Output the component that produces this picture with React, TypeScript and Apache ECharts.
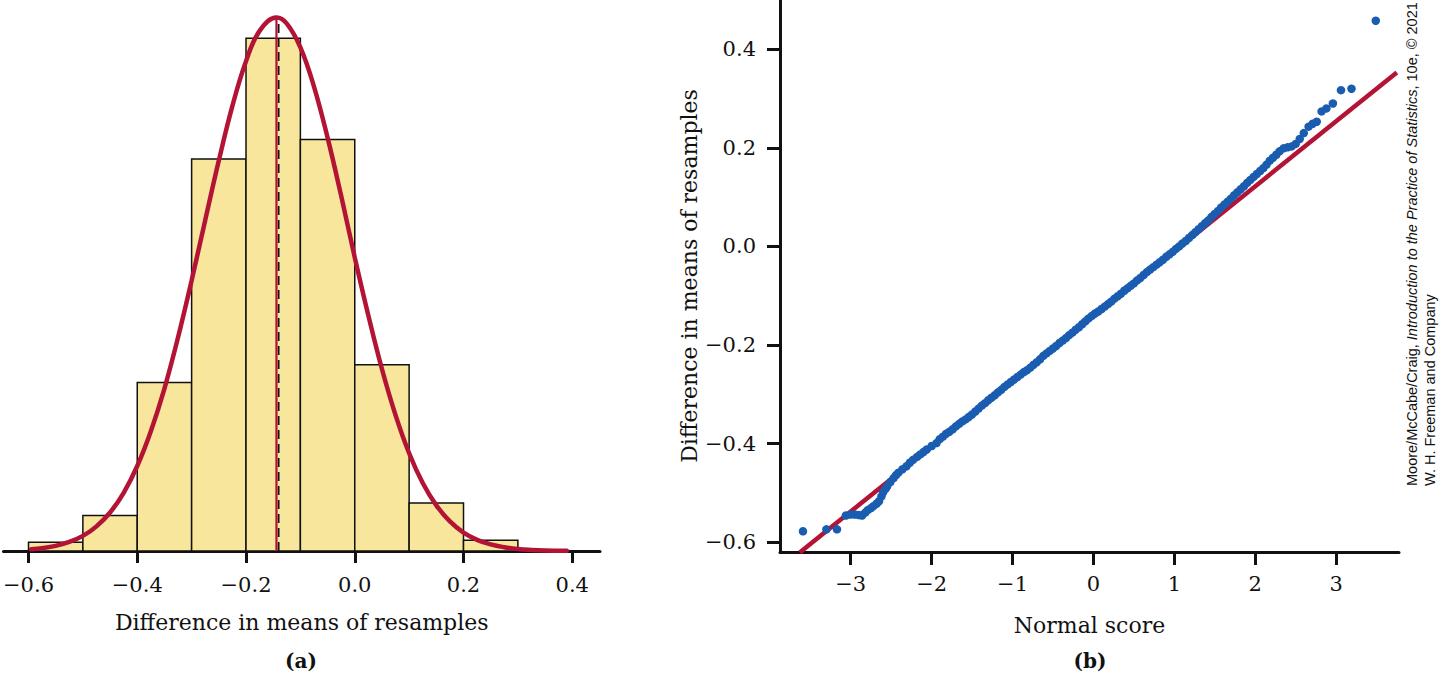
import React, { useEffect, useRef } from "react";
import * as echarts from "echarts";

// ---------- Panel (a): histogram of resample differences ----------
const binEdges = [-0.6, -0.5, -0.4, -0.3, -0.2, -0.1, 0.0, 0.1, 0.2, 0.3];
const binCounts = [5, 20, 95, 221, 289, 232, 105, 27, 6];
const histTicks = [-0.6, -0.4, -0.2, 0, 0.2, 0.4];

const curveX = [-0.595, -0.575, -0.55, -0.525, -0.5, -0.475, -0.45, -0.425, -0.4, -0.375, -0.35, -0.325, -0.3, -0.275, -0.25, -0.225, -0.2, -0.175, -0.144, -0.125, -0.1, -0.075, -0.05, -0.025, 0, 0.025, 0.05, 0.075, 0.1, 0.125, 0.15, 0.175, 0.2, 0.225, 0.25, 0.275, 0.3, 0.325, 0.35, 0.39];
const curveY = [1.0, 1.6, 2.9, 5.1, 8.5, 13.9, 21.7, 32.8, 47.9, 67.5, 91.6, 120.4, 152.5, 186.5, 220.1, 250.9, 276.1, 293.2, 300.7, 297.3, 283.9, 261.8, 233.0, 200.2, 165.5, 132.8, 102.6, 76.6, 55.1, 38.3, 25.7, 16.7, 10.4, 6.3, 3.7, 2.1, 1.1, 0.6, 0.3, 0.1];

const normalMean = -0.144;
const observedMean = -0.14;
const curvePeak = 300.7;

// ---------- Panel (b): normal quantile plot ----------
const qqLowTail: number[][] = [
  [-3.59, -0.578], [-3.3, -0.574], [-3.17, -0.574], [-3.06, -0.546], [-3.0, -0.544], [-2.95, -0.544],
  [-2.9, -0.545], [-2.86, -0.546], [-2.82, -0.54], [-2.79, -0.535], [-2.75, -0.531], [-2.72, -0.527],
  [-2.68, -0.522], [-2.65, -0.517], [-2.62, -0.507], [-2.6, -0.499], [-2.57, -0.492], [-2.55, -0.487],
  [-2.51, -0.478], [-2.47, -0.47], [-2.44, -0.464], [-2.41, -0.459], [-2.36, -0.452], [-2.31, -0.446],
  [-2.27, -0.439], [-2.23, -0.433], [-2.18, -0.427], [-2.14, -0.422], [-2.1, -0.417], [-2.06, -0.412],
  [-2.0, -0.405], [-1.94, -0.399],
];
const qqMiddle: number[][] = [
  [-1.9, -0.391], [-1.86, -0.386], [-1.82, -0.38], [-1.78, -0.376], [-1.74, -0.371], [-1.7, -0.365],
  [-1.66, -0.36], [-1.62, -0.355], [-1.58, -0.351], [-1.54, -0.346], [-1.5, -0.341], [-1.46, -0.335],
  [-1.42, -0.329], [-1.38, -0.323], [-1.34, -0.318], [-1.3, -0.312], [-1.26, -0.307], [-1.22, -0.302],
  [-1.18, -0.296], [-1.14, -0.291], [-1.1, -0.285], [-1.06, -0.28], [-1.02, -0.275], [-0.98, -0.27],
  [-0.94, -0.265], [-0.9, -0.26], [-0.86, -0.255], [-0.82, -0.251], [-0.78, -0.246], [-0.74, -0.24],
  [-0.7, -0.235], [-0.66, -0.229], [-0.62, -0.222], [-0.58, -0.217], [-0.54, -0.212], [-0.5, -0.207],
  [-0.46, -0.202], [-0.42, -0.196], [-0.38, -0.191], [-0.34, -0.186], [-0.3, -0.18], [-0.26, -0.175],
  [-0.22, -0.169], [-0.18, -0.164], [-0.14, -0.158], [-0.1, -0.152], [-0.06, -0.146], [-0.02, -0.141],
  [0.02, -0.136], [0.06, -0.132], [0.1, -0.127], [0.14, -0.122], [0.18, -0.117], [0.22, -0.112],
  [0.26, -0.106], [0.3, -0.101], [0.34, -0.096], [0.38, -0.09], [0.42, -0.085], [0.46, -0.08],
  [0.5, -0.075], [0.54, -0.069], [0.58, -0.064], [0.62, -0.058], [0.66, -0.052], [0.7, -0.047],
  [0.74, -0.042], [0.78, -0.037], [0.82, -0.032], [0.86, -0.027], [0.9, -0.021], [0.94, -0.016],
  [0.98, -0.011], [1.02, -0.005], [1.06, 0.0], [1.1, 0.006], [1.14, 0.011], [1.18, 0.017],
];
const qqHighTail: number[][] = [
  [1.22, 0.023], [1.26, 0.029], [1.3, 0.035], [1.34, 0.041], [1.38, 0.047], [1.42, 0.053],
  [1.46, 0.06], [1.5, 0.066], [1.54, 0.072], [1.58, 0.079], [1.62, 0.085], [1.66, 0.091],
  [1.7, 0.097], [1.74, 0.104], [1.78, 0.11], [1.82, 0.116], [1.86, 0.122], [1.9, 0.129],
  [1.94, 0.135], [1.98, 0.141], [2.02, 0.147], [2.06, 0.153], [2.1, 0.159], [2.14, 0.166],
  [2.18, 0.174], [2.22, 0.18], [2.26, 0.186], [2.3, 0.193], [2.35, 0.199], [2.4, 0.201],
  [2.45, 0.203], [2.5, 0.208], [2.55, 0.218], [2.6, 0.23], [2.66, 0.243], [2.71, 0.249],
  [2.76, 0.253], [2.82, 0.274], [2.88, 0.28], [2.96, 0.29], [3.06, 0.317], [3.19, 0.32],
  [3.49, 0.458],
];
const qqLine: number[][] = [[-3.63, -0.621], [3.75, 0.353]];
const qqXTicks = [-3, -2, -1, 0, 1, 2, 3];
const qqYTicks = [-0.6, -0.4, -0.2, 0, 0.2, 0.4];

const RED = "#b31334";
const BLUE = "#1a5db0";
const YELLOW = "#f8e69c";
const INK = "#111111";
const SERIF = "'DejaVu Serif', 'Liberation Serif', serif";
const SANS_NARROW = "'Liberation Sans Narrow', 'Liberation Sans', sans-serif";

const minus = (s: string) => s.replace("-", "\u2212");

export default function App() {
  const ref = useRef<HTMLDivElement>(null);

  useEffect(() => {
    if (!ref.current) return;
    const chart = echarts.init(ref.current, null, { renderer: "svg" });

    const axisCommon = {
      axisLine: { show: true, onZero: false, lineStyle: { color: INK, width: 3 } },
      splitLine: { show: false },
    };

    const option: any = {
      animation: false,
      backgroundColor: "#ffffff",
      grid: [
        { left: 2, top: 0, width: 598, height: 551 },
        { left: 780, top: 0, width: 619, height: 552 },
      ],
      xAxis: [
        {
          ...axisCommon,
          type: "value",
          gridIndex: 0,
          min: -0.646,
          max: 0.451,
          axisTick: { show: true, length: 12, lineStyle: { color: INK, width: 3 }, customValues: histTicks },
          axisLabel: {
            customValues: histTicks,
            margin: 23,
            color: INK,
            fontFamily: SERIF,
            fontSize: 21,
            formatter: (v: number) => minus(v.toFixed(1)),
          },
          name: "Difference in means of resamples",
          nameLocation: "middle",
          nameGap: 60,
          nameTextStyle: { color: INK, fontFamily: SERIF, fontSize: 22 },
        },
        {
          ...axisCommon,
          type: "value",
          gridIndex: 1,
          min: -3.874,
          max: 3.777,
          axisTick: { show: true, length: 13, lineStyle: { color: INK, width: 3 }, customValues: qqXTicks },
          axisLabel: {
            customValues: qqXTicks,
            margin: 21,
            color: INK,
            fontFamily: SERIF,
            fontSize: 21,
            formatter: (v: number) => minus(String(Math.round(v))),
          },
          name: "Normal score",
          nameLocation: "middle",
          nameGap: 62,
          nameTextStyle: { color: INK, fontFamily: SERIF, fontSize: 22 },
        },
      ],
      yAxis: [
        { type: "value", gridIndex: 0, min: 0, max: 310.6, show: false },
        {
          ...axisCommon,
          type: "value",
          gridIndex: 1,
          min: -0.62,
          max: 0.5,
          axisTick: { show: true, length: 13, lineStyle: { color: INK, width: 3 }, customValues: qqYTicks },
          axisLabel: {
            customValues: qqYTicks,
            margin: 24,
            color: INK,
            fontFamily: SERIF,
            fontSize: 21,
            formatter: (v: number) => minus(v.toFixed(1)),
          },
          name: "Difference in means of resamples",
          nameLocation: "middle",
          nameRotate: 90,
          nameGap: 80,
          nameTextStyle: { color: INK, fontFamily: SERIF, fontSize: 22 },
        },
      ],
      series: [
        {
          type: "custom",
          xAxisIndex: 0,
          yAxisIndex: 0,
          encode: { x: [0, 1], y: 2 },
          data: binCounts.map((c, i) => [binEdges[i], binEdges[i + 1], c]),
          renderItem: (params: any, api: any) => {
            const p0 = api.coord([api.value(0), 0]);
            const p1 = api.coord([api.value(1), api.value(2)]);
            return {
              type: "rect",
              shape: { x: p0[0], y: p1[1], width: p1[0] - p0[0], height: p0[1] - p1[1] },
              style: { fill: YELLOW, stroke: INK, lineWidth: 1.5 },
            };
          },
          z: 1,
        },
        {
          type: "line",
          xAxisIndex: 0,
          yAxisIndex: 0,
          data: [[observedMean, 0], [observedMean, curvePeak]],
          symbol: "none",
          lineStyle: { color: INK, width: 1.8, type: [9, 5] },
          z: 2,
        },
        {
          type: "line",
          xAxisIndex: 0,
          yAxisIndex: 0,
          data: [[normalMean, 0], [normalMean, curvePeak]],
          symbol: "none",
          lineStyle: { color: RED, width: 2.2 },
          z: 3,
        },
        {
          type: "line",
          xAxisIndex: 0,
          yAxisIndex: 0,
          data: curveX.map((x, i) => [x, curveY[i]]),
          symbol: "none",
          smooth: 0.4,
          lineStyle: { color: RED, width: 4.5, cap: "round" },
          z: 4,
        },
        {
          type: "line",
          xAxisIndex: 1,
          yAxisIndex: 1,
          data: qqLine,
          symbol: "none",
          lineStyle: { color: RED, width: 4.5 },
          z: 2,
        },
        {
          type: "scatter",
          xAxisIndex: 1,
          yAxisIndex: 1,
          data: [...qqLowTail, ...qqMiddle, ...qqHighTail],
          symbol: "circle",
          symbolSize: 8.5,
          itemStyle: { color: BLUE, opacity: 1 },
          z: 3,
        },
      ],
      graphic: [
        {
          type: "text",
          x: 301,
          y: 661,
          style: {
            text: "(a)",
            fill: INK,
            font: `bold 20px ${SERIF}`,
            textAlign: "center",
            textVerticalAlign: "middle",
          },
        },
        {
          type: "text",
          x: 1090,
          y: 661,
          style: {
            text: "(b)",
            fill: INK,
            font: `bold 20px ${SERIF}`,
            textAlign: "center",
            textVerticalAlign: "middle",
          },
        },
        {
          type: "text",
          x: 1412,
          y: 486,
          rotation: Math.PI / 2,
          style: {
            text: "Moore/McCabe/Craig, {i|Introduction to the Practice of Statistics}, 10e, \u00a9 2021",
            fill: INK,
            fontFamily: SANS_NARROW,
            fontSize: 14.5,
            textAlign: "left",
            textVerticalAlign: "middle",
            rich: {
              i: {
                fontStyle: "italic",
                fontFamily: SANS_NARROW,
                fontSize: 14.5,
                fill: INK,
              },
            },
          },
        },
        {
          type: "text",
          x: 1430,
          y: 486,
          rotation: Math.PI / 2,
          style: {
            text: "W. H. Freeman and Company",
            fill: INK,
            fontFamily: SANS_NARROW,
            fontSize: 14.5,
            textAlign: "left",
            textVerticalAlign: "middle",
          },
        },
      ],
    };

    chart.setOption(option);
    return () => chart.dispose();
  }, []);

  return (
    <div
      ref={ref}
      style={{ position: "absolute", left: 0, top: 0, width: 1443, height: 677, background: "#fff" }}
    />
  );
}
